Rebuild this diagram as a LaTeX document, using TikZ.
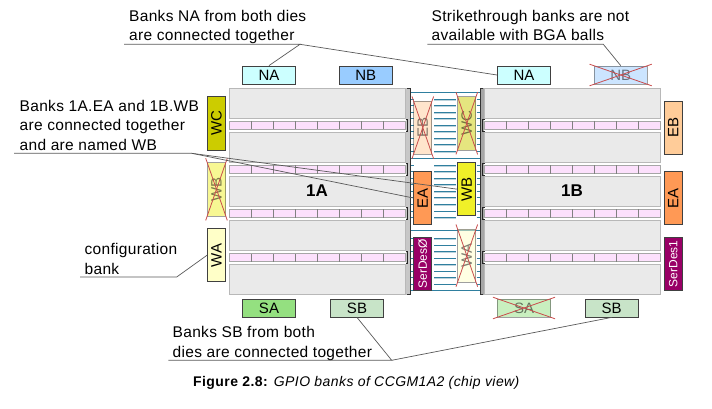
\documentclass[tikz,border=0pt]{standalone}
\usepackage{fontspec}
\setmainfont{Liberation Sans}
\newfontfamily\notefont[LetterSpace=2]{Liberation Sans}
\newfontfamily\capfont[LetterSpace=3]{Liberation Sans}
\usetikzlibrary{calc}
\definecolor{wirecol}{HTML}{2F7F9F}
\definecolor{wirepale}{HTML}{BCD3DC}
\definecolor{cellcol}{HTML}{EAEAEA}
\definecolor{pinkcol}{HTML}{FCE0FC}
\definecolor{serdescol}{HTML}{990066}
\definecolor{nacol}{HTML}{CCFFFF}
\tikzset{
    bank/.style={draw=black!75, line width=0.8pt, inner sep=0pt, minimum width=53.3pt, minimum height=18pt, font=\fontsize{15}{15}\selectfont},
    vbank/.style={bank, rotate=90},
    serdes/.style={vbank, fill=serdescol, text=white, font=\fontsize{12}{12}\selectfont},
    struck/.style={opacity=.5},
    note/.style={anchor=north west, align=left, inner sep=0pt, font=\notefont\fontsize{15.5}{19.3}\selectfont},
    leader/.style={draw=black!65, line width=0.7pt},
    crossout/.style={draw=red!70!black!70, line width=0.8pt}
}
\begin{document}
\begin{tikzpicture}[x=1pt,y=-1pt]
    \useasboundingbox (0,0) rectangle (712,409);
    %Wires between the dies
    \foreach \y in {92.3,158.3,230.7,290}{
        \draw[wirecol, line width=0.8pt] (410,\y)--(480,\y);
    }
    \foreach \y in {99.3,105.8,112.3,118.8,125.3,131.8,138.3,144.9,151.5,165.3,171.8,178.3,184.8,191.3,197.8,204.4,211,217.6,238.3,244.9,251.4,258,264.5,271,277.5,284}{
        \draw[wirepale, line width=1pt] (434.3,\y+0.8)--(455.7,\y+0.8);
        \draw[wirecol, line width=0.8pt] (434.3,\y)--(455.7,\y);
        \draw[wirecol, line width=0.8pt] (410.5,\y)--(413.5,\y);
        \draw[wirecol, line width=0.8pt] (476.5,\y)--(479.5,\y);
    }
    %Dies
    \foreach \xo in {229.3,484.3}{
        \foreach \yo in {88.3,132.3,176.3,220.5,264.5}{
            \draw[draw=black!28, fill=cellcol, line width=0.9pt] (\xo,\yo) rectangle ++(176,30);
        }
        \foreach \yo in {121,165.3,209.3,253.5}{
            \draw[draw=black!35, fill=pinkcol, line width=0.8pt] (\xo,\yo) rectangle ++(176,8.3);
            \foreach \i in {1,...,7}{
                \draw[black!50, line width=0.6pt] (\xo+22*\i,\yo) -- ++(0,8.3);
            }
        }
    }
    %Edges of the dies
    \fill[black!22] (405.5,88.3) rectangle (410,294.8);
    \draw[black!80, line width=0.8pt] (406.5,88.3)--(410,88.3)--(410,294.8)--(406.5,294.8);
    \fill[black!35] (480,88.3) rectangle (484,294.8);
    \draw[black!80, line width=0.8pt] (483,88.3)--(480,88.3)--(480,294.8)--(483,294.8);
    \foreach \yo in {119,163.3,207.3,251.5}{
        \draw[black!85, line width=0.7pt] (405.5,\yo)--(407.3,\yo)--(407.3,\yo+12.3)--(405.5,\yo+12.3);
        \draw[black!85, line width=0.7pt] (484.5,\yo)--(482.7,\yo)--(482.7,\yo+12.3)--(484.5,\yo+12.3);
    }
    \node[font=\fontsize{17}{17}\selectfont\bfseries, inner sep=0pt] (dieA) at (317,191) {1A};
    \node[font=\fontsize{17}{17}\selectfont\bfseries, inner sep=0pt] (dieB) at (572,191) {1B};
    %Banks, top and bottom
    \node[bank, fill=nacol] (naL) at (269,75) {NA};
    \node[bank, fill={rgb,255:red,153;green,204;blue,255}] (nbL) at (365.7,75) {NB};
    \node[bank, fill=nacol] (naR) at (524,75) {NA};
    \node[bank, struck, fill={rgb,255:red,153;green,204;blue,255}] (nbR) at (620.7,75) {NB};
    \node[bank, fill={rgb,255:red,148;green,224;blue,128}] (saL) at (269,308) {SA};
    \node[bank, fill={rgb,255:red,200;green,228;blue,200}] (sbL) at (357,308) {SB};
    \node[bank, struck, fill={rgb,255:red,148;green,224;blue,128}] (saR) at (524,308) {SA};
    \node[bank, fill={rgb,255:red,200;green,228;blue,200}] (sbR) at (611.7,308) {SB};
    %Banks, left side
    \node[vbank, fill={rgb,255:red,204;green,204;blue,0}] (wcL) at (216.5,123.3) {WC};
    \node[vbank, struck, fill={rgb,255:red,240;green,240;blue,40}] (wbL) at (216.5,189.3) {WB};
    \node[vbank, fill={rgb,255:red,255;green,255;blue,200}] (waL) at (216.5,255.2) {WA};
    %Banks, between the dies
    \node[vbank, struck, fill={rgb,255:red,255;green,204;blue,153}] (ebM) at (422.8,127.6) {EB};
    \node[vbank, fill={rgb,255:red,255;green,153;blue,85}] (eaM) at (422.8,198) {EA};
    \node[serdes] (sd0) at (422.8,263.8) {SerDesØ};
    \node[vbank, struck, fill={rgb,255:red,204;green,204;blue,0}] (wcM) at (466.8,123.3) {WC};
    \node[vbank, fill={rgb,255:red,240;green,240;blue,40}] (wbM) at (466.8,189.2) {WB};
    \node[vbank, struck, fill={rgb,255:red,255;green,255;blue,200}] (waM) at (466.8,255.6) {WA};
    %Banks, right side
    \node[vbank, fill={rgb,255:red,255;green,204;blue,153}] (ebR) at (673.2,127.6) {EB};
    \node[vbank, fill={rgb,255:red,255;green,153;blue,85}] (eaR) at (673.2,198) {EA};
    \node[serdes] (sd1) at (673.2,263.8) {SerDes1};
    %Banks without balls
    \foreach \b in {nbR,saR,wbL,ebM,wcM,waM}{
        \draw[crossout] ($(\b.north west)!-0.075!(\b.south east)$)--($(\b.south east)!-0.075!(\b.north west)$);
        \draw[crossout] ($(\b.north east)!-0.075!(\b.south west)$)--($(\b.south west)!-0.075!(\b.north east)$);
    }
    %Notes
    \node[note] (txtNA) at (129,10) {Banks NA from both dies\\are connected together};
    \node[note] (txtNB) at (431.5,10) {Strikethrough banks are not\\available with BGA balls};
    \node[note] (txtWB) at (19.5,100) {Banks 1A.EA and 1B.WB\\are connected together\\and are named WB};
    \node[note] (txtWA) at (84.5,243.5) {configuration\\bank};
    \node[note] (txtSB) at (172.5,326.5) {Banks SB from both\\dies are connected together};
    %Leaders
    \coordinate (naA) at (124,44.3);
    \coordinate (naK) at (300,44.3);
    \draw[leader] (naA)--(naK)--(naL.north);
    \draw[leader] (naK)--(naR.west);
    \coordinate (nbA) at (427.3,44.3);
    \coordinate (nbK) at (603.3,44.3);
    \draw[leader] (nbA)--(nbK)--(nbR.north);
    \coordinate (wbA) at (14,153.3);
    \coordinate (wbK) at (191.7,153.3);
    \draw[leader] (wbA)--(wbK)--(eaM.north);
    \draw[leader] (wbK)--(wbM.north);
    \coordinate (waA) at (80,277);
    \coordinate (waK) at (176.7,277);
    \draw[leader] (waA)--(waK)--(waL.north);
    \coordinate (sbA) at (168.3,360.3);
    \coordinate (sbK) at (391.7,360.3);
    \draw[leader] (sbA)--(sbK)--(sbL.south);
    \draw[leader] (sbK)--(sbR.south);
    %Caption
    \node[inner sep=0pt, font=\capfont\fontsize{14}{14}\selectfont] (caption) at (356.5,383) {\textbf{Figure 2.8:} \textit{GPIO banks of CCGM1A2 (chip view)}};
\end{tikzpicture}
\end{document}
